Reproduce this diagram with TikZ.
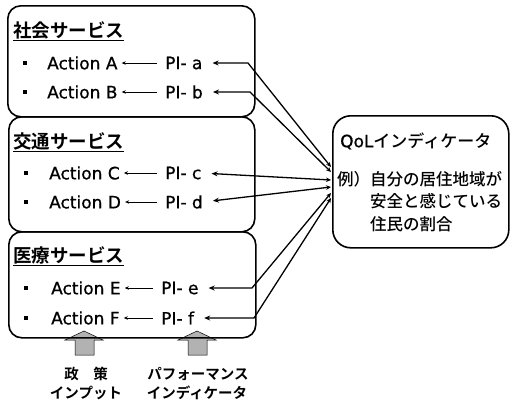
\documentclass[tikz,border=0pt]{standalone}
\usepackage{fontspec}
\setmainfont{DejaVu Sans}[FakeBold=0.8]
\newfontfamily\jp{Noto Sans CJK JP Medium}
\newfontfamily\jpb{Noto Sans CJK JP Bold}
\usetikzlibrary{arrows.meta}
\begin{document}
\begin{tikzpicture}[x=1pt,y=-1pt,
  box/.style={draw, line width=1.6pt, rounded corners=13pt, anchor=north west, inner sep=0},
  qbox/.style={draw, line width=1.6pt, rounded corners=18pt, anchor=north west, inner sep=0},
  title/.style={anchor=west, inner sep=0, font=\jpb\fontsize{18.5}{19}\selectfont},
  act/.style={anchor=west, inner sep=0, font=\fontsize{17}{17}\selectfont},
  pitxt/.style={anchor=west, inner sep=0, font=\fontsize{17}{17}\selectfont},
  bul/.style={fill, minimum size=4pt, inner sep=0},
  sarr/.style={-{Stealth[length=4pt,width=3.5pt]}, line width=0.8pt, shorten >=4pt, shorten <=8pt},
  link/.style={{Stealth[length=6pt,width=5pt]}-{Stealth[length=5pt,width=4.5pt]}, line width=1.3pt, shorten <=10pt},
  qtxt/.style={anchor=west, inner sep=0, font=\jp\fontsize{16.5}{17}\selectfont},
  blk/.style={draw, line width=0.5pt, fill=gray!60},
  lab/.style={inner sep=0, font=\jpb\fontsize{14.5}{15}\selectfont}
]
\useasboundingbox (0,0) rectangle (510,400);

% block arrows (drawn first, box line passes over them)
\draw[blk] (84,331) -- (103,340) -- (94,340) -- (94,355) -- (75,355) -- (75,340) -- (65,340) -- cycle;
\draw[blk] (197,331) -- (216,340) -- (207,340) -- (207,355) -- (188,355) -- (188,340) -- (178,340) -- cycle;

% service boxes
\node[box, minimum width=247pt, minimum height=111pt] (s1) at (7,5) {};
\node[box, minimum width=246pt, minimum height=115pt] (s2) at (8,116) {};
\node[box, minimum width=247pt, minimum height=106pt] (s3) at (8,231) {};

\node[title] (t1) at (13,31) {\underline{社会サービス}};
\node[title] (t2) at (13,142) {\underline{交通サービス}};
\node[title] (t3) at (13,256) {\underline{医療サービス}};

% rows
\node[bul] (b1) at (25,63) {};
\node[act] (aA) at (47,63) {Action A};
\node[pitxt] (pA) at (165,63) {PI- a};
\node[bul] (b2) at (25,92) {};
\node[act] (aB) at (47,92) {Action B};
\node[pitxt] (pB) at (165,92) {PI- b};
\node[bul] (b3) at (26,173) {};
\node[act] (aC) at (49,173) {Action C};
\node[pitxt] (pC) at (165,173) {PI- c};
\node[bul] (b4) at (26,202) {};
\node[act] (aD) at (49,202) {Action D};
\node[pitxt] (pD) at (165,202) {PI- d};
\node[bul] (b5) at (26,288) {};
\node[act] (aE) at (51,288) {Action E};
\node[pitxt] (pE) at (161,288) {PI- e};
\node[bul] (b6) at (26,318) {};
\node[act] (aF) at (51,318) {Action F};
\node[pitxt] (pF) at (161,318) {PI- f};

\foreach \r in {A,B,C,D,E,F}{
  \draw[sarr] (p\r.west) -- (a\r.east);
}

% QoL box
\node[qbox, minimum width=176pt, minimum height=132pt] (q) at (332,115) {};
\node[anchor=west, inner sep=0, font=\fontsize{17}{17}\selectfont] (qt) at (340,141) {QoL{\jp インディケータ}};
\node[qtxt] (q1) at (337,179) {例）自分の居住地域が};
\node[qtxt] (q2) at (370,201) {安全と感じている};
\node[qtxt] (q3) at (370,224) {住民の割合};

% connectors
\coordinate (kA) at (248,63);
\coordinate (kB) at (250,92);
\coordinate (kE) at (252,288);
\coordinate (kF) at (254,318);
\coordinate (qa) at (331,167);
\coordinate (qb) at (331,172);
\coordinate (qc) at (331,180);
\coordinate (qd) at (331,187);
\coordinate (qe) at (331,193);
\coordinate (qf) at (331,198);
\draw[link] (pA.east) -- (kA) -- (qa);
\draw[link] (pB.east) -- (kB) -- (qb);
\draw[link] (pC.east) -- (qc);
\draw[link] (pD.east) -- (qd);
\draw[link] (pE.east) -- (kE) -- (qe);
\draw[link] (pF.east) -- (kF) -- (qf);

% bottom labels
\node[lab] (l1) at (86,374) {政　策};
\node[lab] (l2) at (86,393) {インプット};
\node[lab] (l3) at (198,374) {パフォーマンス};
\node[lab] (l4) at (197,393) {インディケータ};
\end{tikzpicture}
\end{document}
